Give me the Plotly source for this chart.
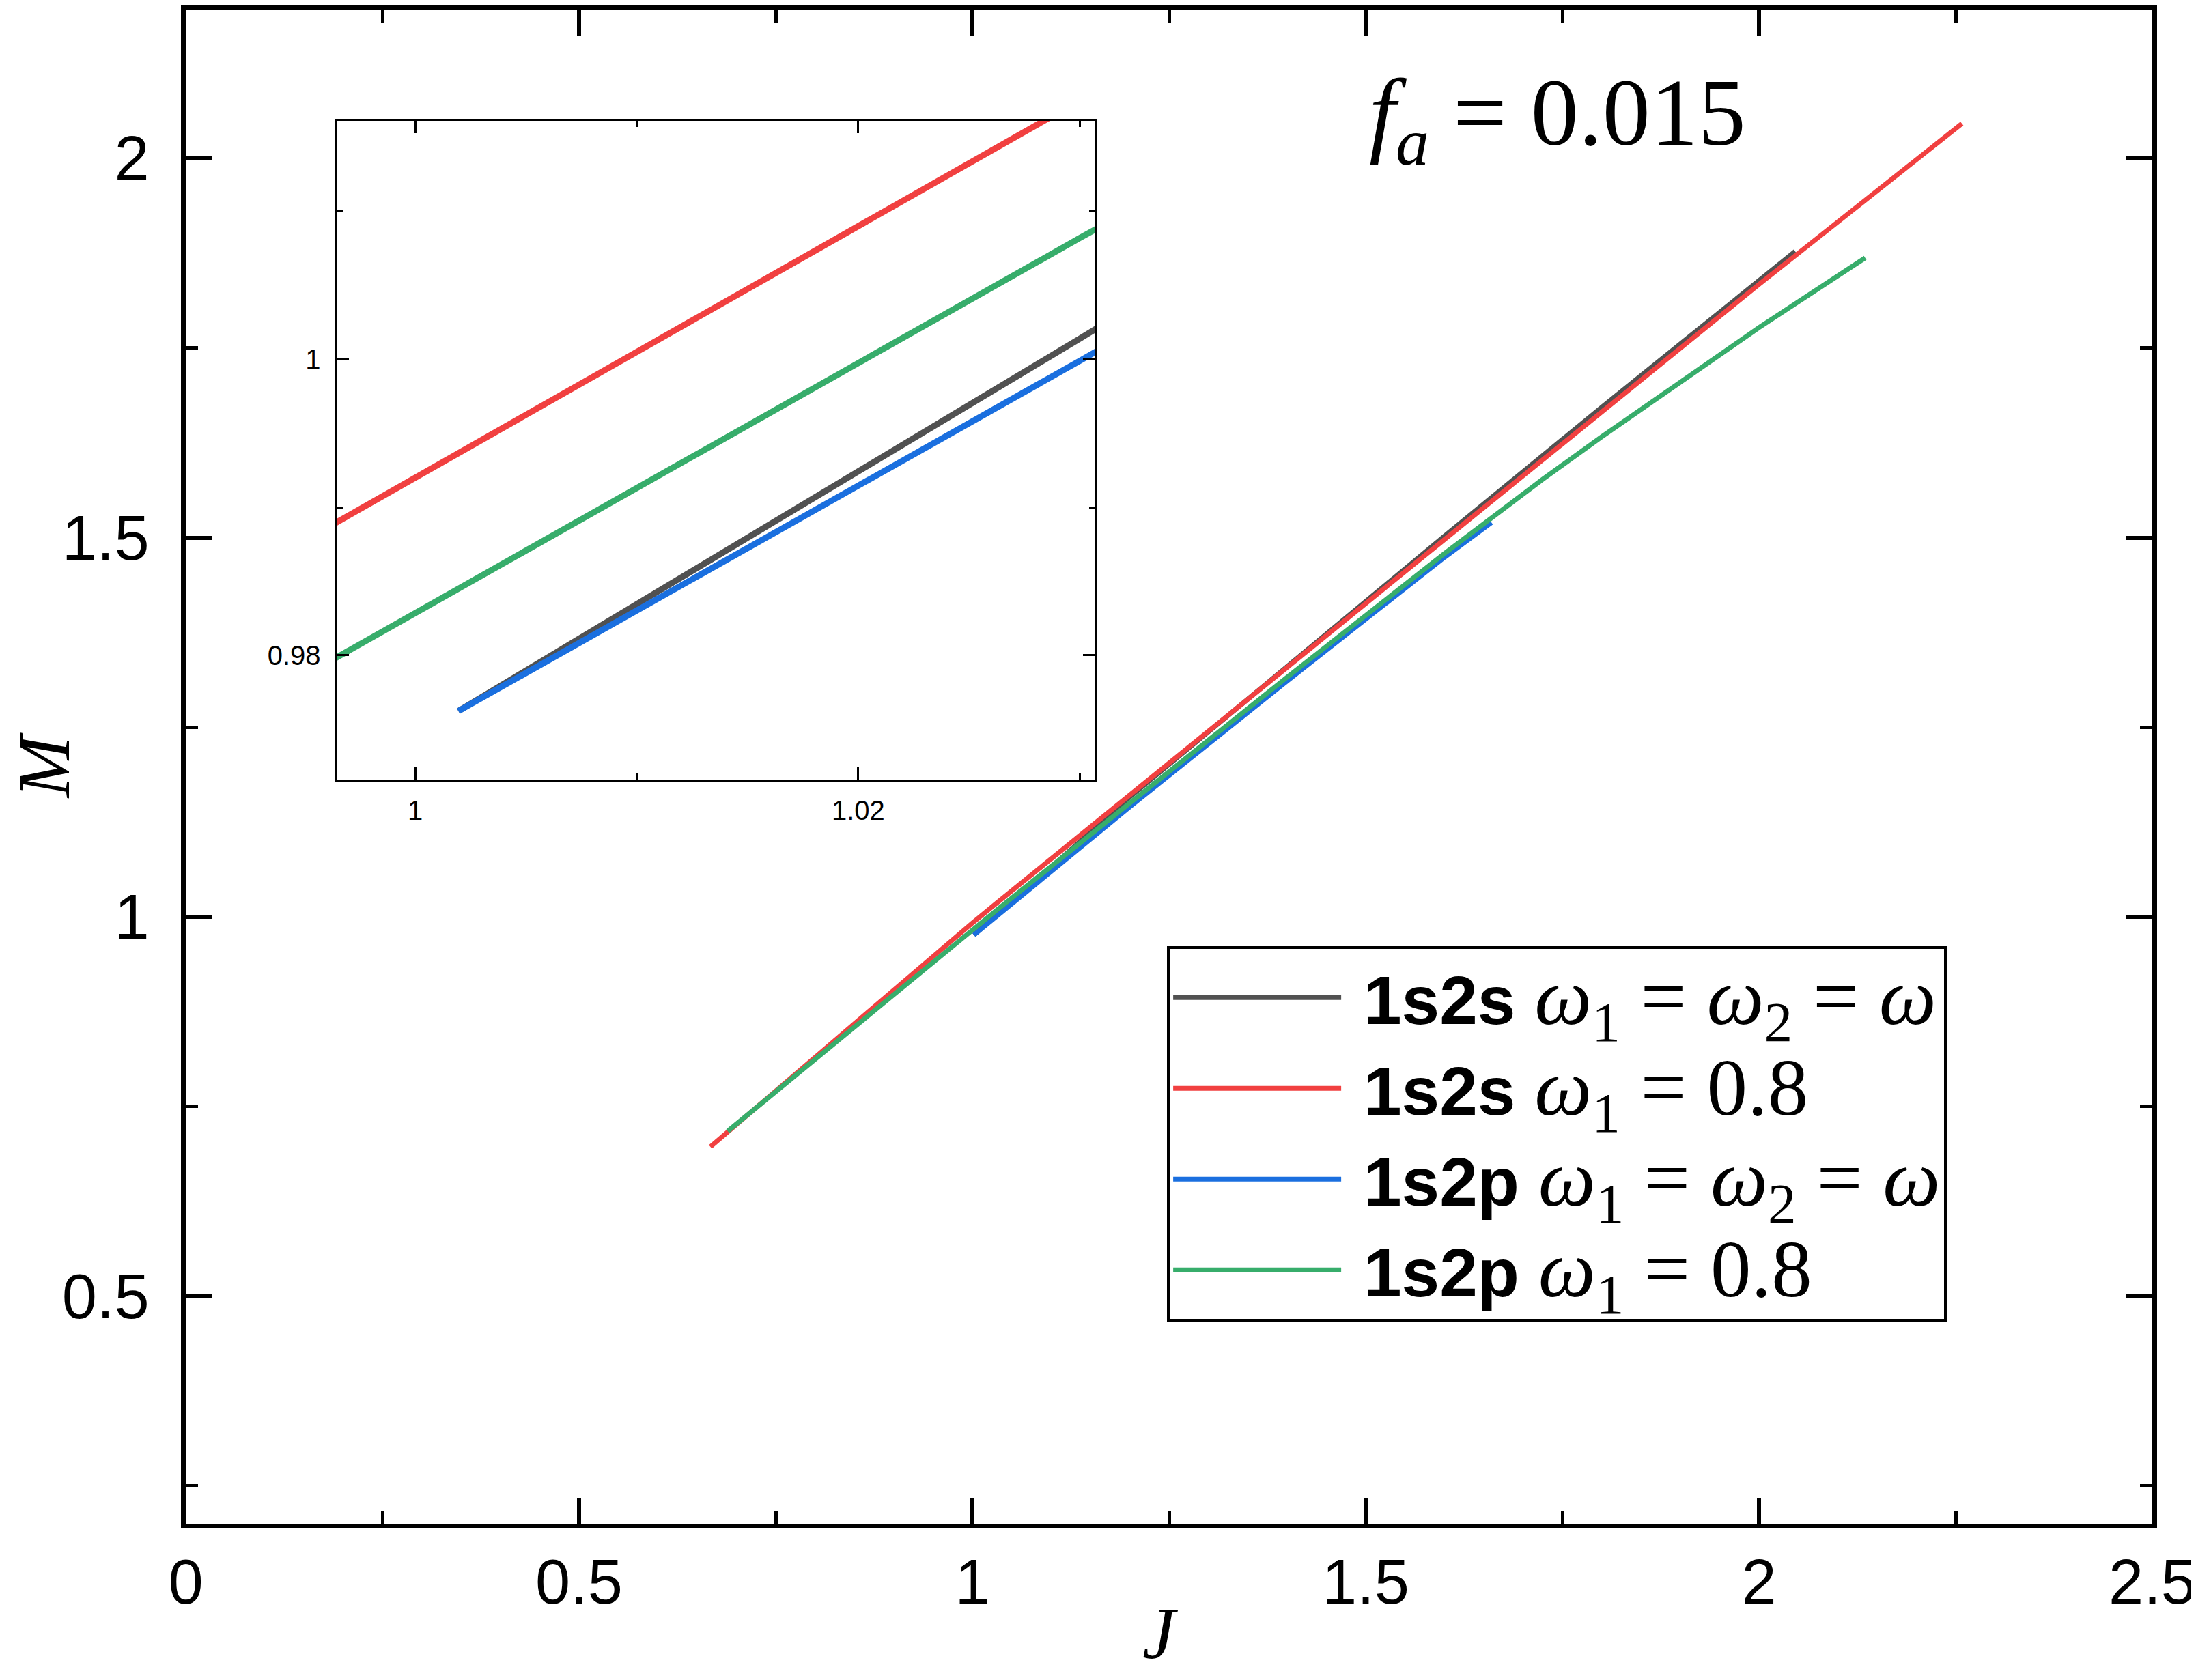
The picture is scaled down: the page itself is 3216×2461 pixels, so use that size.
"""M(J) curves for 1s2s / 1s2p configurations at f_a = 0.015, with a zoomed inset near J = 1."""

import plotly.graph_objects as go

# 1s2s, omega1 = omega2 = omega  (black)
J_1S2S_EQ = [1.00195, 1.03, 1.1, 1.2, 1.4, 1.6, 1.8, 2.0, 2.046]
M_1S2S_EQ = [0.97623, 1.0014, 1.0653, 1.158, 1.331, 1.502, 1.672, 1.840, 1.8775]

# 1s2s, omega1 = 0.8  (red)
J_1S2S_08 = [0.667, 0.8, 0.9, 0.99, 1.0, 1.03, 1.2, 1.4, 1.6, 1.8, 2.0, 2.258]
M_1S2S_08 = [0.697, 0.8155, 0.9035, 0.9835, 0.992, 1.0175, 1.160, 1.329, 1.4975, 1.666, 1.834, 2.046]

# 1s2p, omega1 = omega2 = omega  (blue)
J_1S2P_EQ = [1.00195, 1.03, 1.2, 1.4, 1.6, 1.66]
M_1S2P_EQ = [0.97623, 0.9999, 1.145, 1.311, 1.474, 1.52]

# 1s2p, omega1 = 0.8  (green)
J_1S2P_08 = [0.689, 0.8, 0.9, 0.99, 1.03, 1.2, 1.4, 1.6, 1.725, 1.8, 1.94, 2.0, 2.135]
M_1S2P_08 = [0.7176, 0.8126, 0.8975, 0.9744, 1.0082, 1.150, 1.316, 1.479, 1.577, 1.633, 1.735, 1.777, 1.869]

MATH = "<span style='font-family:Liberation Serif;font-size:119px'>{}</span>"
LABEL_EQ = MATH.format("<i>ω</i><sub>1</sub> = <i>ω</i><sub>2</sub> = <i>ω</i>")
LABEL_08 = MATH.format("<i>ω</i><sub>1</sub> = 0.8")

SERIES = [
    (f" <b>1s2s</b> {LABEL_EQ}", J_1S2S_EQ, M_1S2S_EQ, "#515151"),
    (f" <b>1s2s</b> {LABEL_08}", J_1S2S_08, M_1S2S_08, "#F14040"),
    (f" <b>1s2p</b> {LABEL_EQ}", J_1S2P_EQ, M_1S2P_EQ, "#1A6FDF"),
    (f" <b>1s2p</b> {LABEL_08}", J_1S2P_08, M_1S2P_08, "#37AD6B"),
]

SANS = "Liberation Sans"
SERIF = "Liberation Serif"

fig = go.Figure()
for name, j, m, color in SERIES:
    fig.add_trace(go.Scatter(x=j, y=m, mode="lines", name=name,
                             line={"color": color, "width": 7}))
# same curves again, magnified in the inset
for name, j, m, color in SERIES:
    fig.add_trace(go.Scatter(x=j, y=m, mode="lines", name=name, showlegend=False,
                             xaxis="x2", yaxis="y2", line={"color": color, "width": 9}))


def main_axis(rng, dtick, **kw):
    return dict(range=rng, tick0=0, dtick=dtick, ticks="inside", ticklen=38, tickwidth=6,
                tickcolor="black", showline=True, linewidth=7, linecolor="black",
                mirror="ticks", showgrid=False, zeroline=False,
                tickfont={"family": SANS, "size": 92, "color": "black"},
                minor={"dtick": dtick / 2, "ticks": "inside", "ticklen": 18,
                       "tickwidth": 5, "tickcolor": "black", "showgrid": False},
                **kw)


def inset_axis(rng, anchor, domain, **kw):
    return dict(range=rng, tick0=0, dtick=0.02, ticks="inside", ticklen=18, tickwidth=3,
                tickcolor="black", showline=True, linewidth=3, linecolor="black",
                mirror="ticks", showgrid=False, zeroline=False, anchor=anchor, domain=domain,
                tickfont={"family": SANS, "size": 40, "color": "black"},
                minor={"dtick": 0.01, "ticks": "inside", "ticklen": 9,
                       "tickwidth": 3, "tickcolor": "black", "showgrid": False},
                **kw)


fig.update_layout(
    width=3208,
    height=2453,
    margin={"l": 264, "r": 64, "t": 0, "b": 229},
    paper_bgcolor="white",
    plot_bgcolor="white",
    xaxis=main_axis([0, 2.5], 0.5, ticklabelstandoff=0),
    yaxis=main_axis([0.2, 2.1955], 0.5, ticklabelstandoff=28),
    xaxis2=inset_axis([0.99644, 1.0307], "y2", [0.0766, 0.4625], ticklabelstandoff=8),
    yaxis2=inset_axis([0.97158, 1.01612], "x2", [0.4915, 0.9269], ticklabelstandoff=12),
    legend={"x": 0.499, "y": 0.3817, "xanchor": "left", "yanchor": "top",
            "bgcolor": "white", "bordercolor": "black", "borderwidth": 4,
            "font": {"family": SANS, "size": 100, "color": "black"},
            "itemwidth": 246, "tracegroupgap": 0},
    showlegend=True,
    annotations=[
        dict(text="<i>f</i><sub><i>a</i></sub> = 0.015", x=0.6976, y=0.928,
             xref="paper", yref="paper", xanchor="center", yanchor="middle", showarrow=False,
             font={"family": SERIF, "size": 140, "color": "black"}),
        dict(text="<i>J</i>", x=0.4958, y=-0.0724, xref="paper", yref="paper",
             xanchor="center", yanchor="middle", showarrow=False,
             font={"family": SERIF, "size": 108, "color": "black"}),
        dict(text="<i>M</i>", x=-0.072, y=0.5009, xref="paper", yref="paper",
             xanchor="center", yanchor="middle", showarrow=False, textangle=-90,
             font={"family": SERIF, "size": 108, "color": "black"}),
    ],
)

fig.write_html("out.html")
